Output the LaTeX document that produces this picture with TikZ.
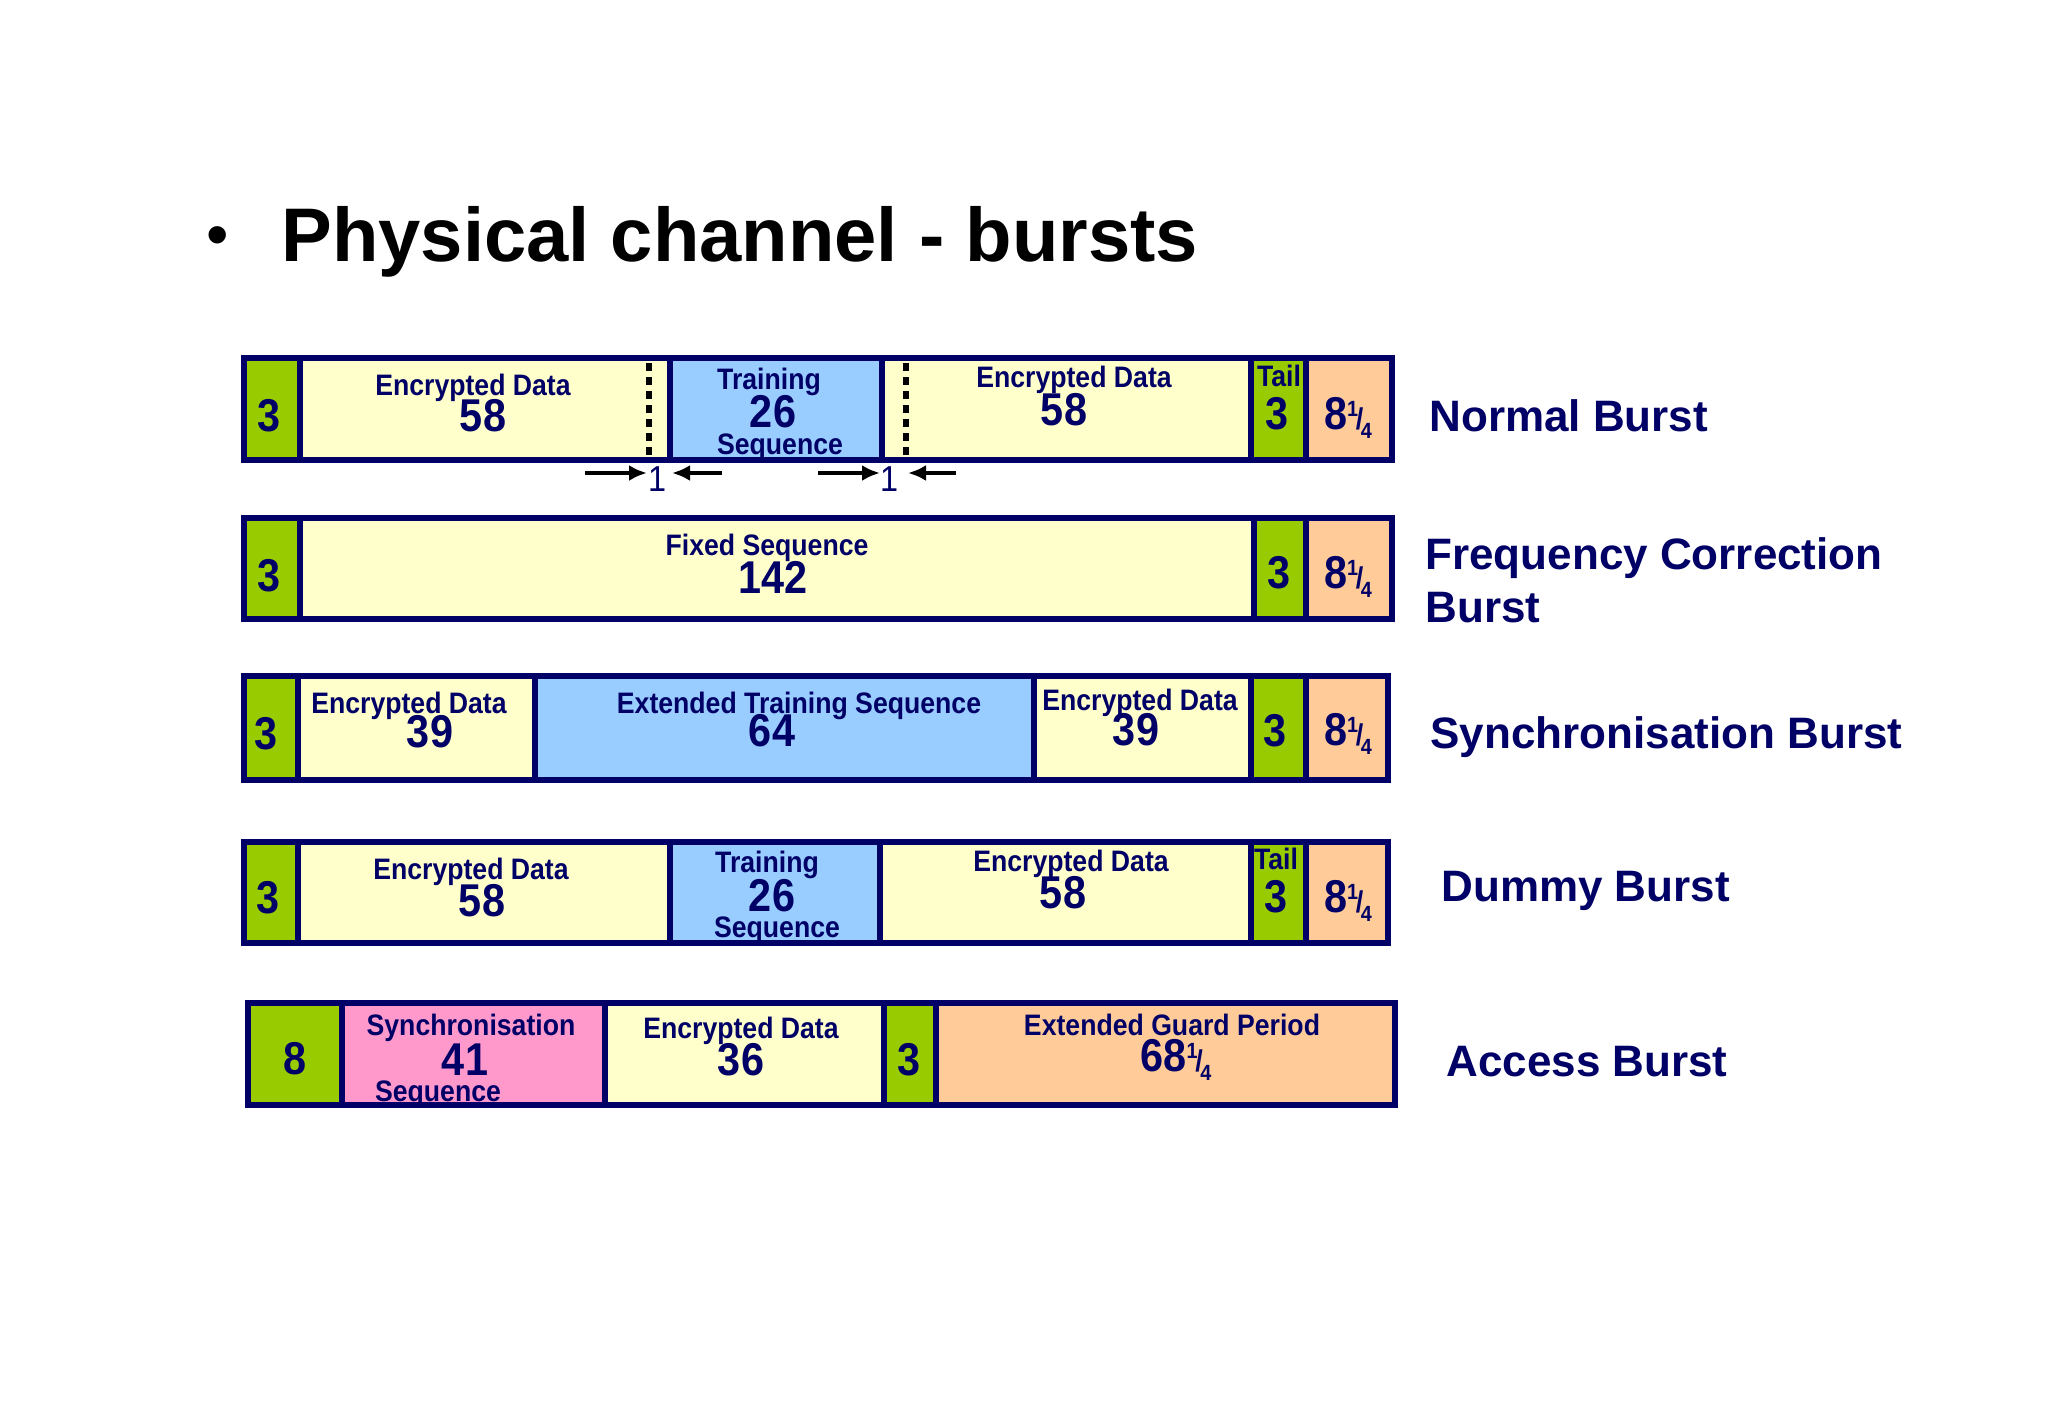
\documentclass[tikz,border=0pt]{standalone}
\usepackage{fontspec}
\setmainfont{Liberation Sans}
\newfontfamily\narrowfont[FakeStretch=0.9]{Liberation Sans}
\usetikzlibrary{arrows.meta}

\definecolor{burstnavy}{HTML}{000066}
\definecolor{tailgreen}{HTML}{99CC00}
\definecolor{datayellow}{HTML}{FFFFCC}
\definecolor{trainblue}{HTML}{99CCFF}
\definecolor{guardpeach}{HTML}{FFCC99}
\definecolor{syncpink}{HTML}{FF99CC}

% one field of a burst: left, right, top, bottom, colour
\newcommand\BurstCell[5]{%
  \draw[cell,fill=#5] (#1,#3) rectangle (#2,#4);
}
% a number with a quarter bit
\newcommand\Quarter[1]{#1\raisebox{0.55ex}{\fontsize{11}{11}\selectfont 1}%
  \kern-0.05em{\fontsize{15}{15}\selectfont /}\kern-0.05em%
  \raisebox{-0.35ex}{\fontsize{11}{11}\selectfont 4}}

\tikzset{%
  >=Latex, % option for nice arrows
  cell/.style={draw=burstnavy,line width=3pt},
  fieldtxt/.style={font=\narrowfont\fontsize{14.8}{14.8}\selectfont\bfseries,
    text=burstnavy,inner sep=0pt,text height=10.6pt,text depth=0pt},
  bitcount/.style={font=\narrowfont\fontsize{23}{23}\selectfont\bfseries,
    text=burstnavy,inner sep=0pt,text height=16.5pt,text depth=0pt},
  burstname/.style={font=\fontsize{22}{26}\selectfont\bfseries,text=burstnavy,
    anchor=base west,inner sep=0pt},
  guardbit/.style={dash pattern=on 4pt off 3pt,line width=3pt,black},
  gaparrow/.style={-{Latex[length=9pt,width=8pt]},line width=2.2pt,black},
  gapone/.style={font=\narrowfont\fontsize{18}{18}\selectfont,text=burstnavy,
    inner sep=0pt}
}

\begin{document}
\begin{tikzpicture}[x=0.5pt,y=-0.5pt]

\useasboundingbox[fill=white] (0,0) rectangle (2048,1418);

%% heading

\node[font=\fontsize{32}{32}\selectfont] (bullet) at (218,242) {•};
\node[font=\fontsize{38}{40}\selectfont\bfseries,anchor=base west,inner sep=0pt]
  (title) at (281,261) {Physical channel - bursts};

%% normal burst

\def\top{358} \def\bot{460}
\BurstCell{244}{300}{\top}{\bot}{tailgreen}
\BurstCell{300}{670}{\top}{\bot}{datayellow}
\BurstCell{670}{882}{\top}{\bot}{trainblue}
\BurstCell{882}{1251}{\top}{\bot}{datayellow}
\BurstCell{1251}{1306}{\top}{\bot}{tailgreen}
\BurstCell{1306}{1392}{\top}{\bot}{guardpeach}
\draw[guardbit] (649,363) -- (649,456);
\draw[guardbit] (906,363) -- (906,456);

\node[bitcount] (nbTailL) at (269,415) {3};
\node[fieldtxt] (nbDataL) at (473,385) {Encrypted Data};
\node[bitcount] (nbDataLn) at (483,415) {58};
\node[fieldtxt] (nbTrain) at (769,379) {Training};
\node[bitcount] (nbTrainn) at (773,411) {26};
\node[fieldtxt] (nbSeq) at (780,444) {Sequence};
\node[fieldtxt] (nbDataR) at (1074,377) {Encrypted Data};
\node[bitcount] (nbDataRn) at (1064,409) {58};
\node[fieldtxt] (nbTail) at (1279,376) {Tail};
\node[bitcount] (nbTailR) at (1277,413) {3};
\node[bitcount] (nbGuard) at (1348,413) {\Quarter{8}};

%% stealing bits below the normal burst

\node[gapone] (oneL) at (657,479) {1};
\node[gapone] (oneR) at (889,479) {1};
\coordinate (oneLa) at (585,473);
\coordinate (oneLb) at (647,473);
\coordinate (oneLc) at (722,473);
\coordinate (oneLd) at (672,473);
\coordinate (oneRa) at (818,473);
\coordinate (oneRb) at (880,473);
\coordinate (oneRc) at (956,473);
\coordinate (oneRd) at (908,473);
\draw[gaparrow] (oneLa) -- (oneLb);
\draw[gaparrow] (oneLc) -- (oneLd);
\draw[gaparrow] (oneRa) -- (oneRb);
\draw[gaparrow] (oneRc) -- (oneRd);

%% frequency correction burst

\def\top{518} \def\bot{619}
\BurstCell{244}{300}{\top}{\bot}{tailgreen}
\BurstCell{300}{1254}{\top}{\bot}{datayellow}
\BurstCell{1254}{1306}{\top}{\bot}{tailgreen}
\BurstCell{1306}{1392}{\top}{\bot}{guardpeach}

\node[bitcount] (fbTailL) at (269,575) {3};
\node[fieldtxt] (fbFixed) at (767,545) {Fixed Sequence};
\node[bitcount] (fbFixedn) at (773,577) {142};
\node[bitcount] (fbTailR) at (1279,572) {3};
\node[bitcount] (fbGuard) at (1348,572) {\Quarter{8}};

%% synchronisation burst

\def\top{676} \def\bot{780}
\BurstCell{244}{298}{\top}{\bot}{tailgreen}
\BurstCell{298}{535}{\top}{\bot}{datayellow}
\BurstCell{535}{1034}{\top}{\bot}{trainblue}
\BurstCell{1034}{1251}{\top}{\bot}{datayellow}
\BurstCell{1251}{1306}{\top}{\bot}{tailgreen}
\BurstCell{1306}{1388}{\top}{\bot}{guardpeach}

\node[bitcount] (sbTailL) at (266,733) {3};
\node[fieldtxt] (sbDataL) at (409,703) {Encrypted Data};
\node[bitcount] (sbDataLn) at (430,731) {39};
\node[fieldtxt] (sbTrain) at (799,703) {Extended Training Sequence};
\node[bitcount] (sbTrainn) at (772,730) {64};
\node[fieldtxt] (sbDataR) at (1140,700) {Encrypted Data};
\node[bitcount] (sbDataRn) at (1136,729) {39};
\node[bitcount] (sbTailR) at (1275,730) {3};
\node[bitcount] (sbGuard) at (1348,729) {\Quarter{8}};

%% dummy burst

\def\top{842} \def\bot{943}
\BurstCell{244}{298}{\top}{\bot}{tailgreen}
\BurstCell{298}{670}{\top}{\bot}{datayellow}
\BurstCell{670}{880}{\top}{\bot}{trainblue}
\BurstCell{880}{1251}{\top}{\bot}{datayellow}
\BurstCell{1251}{1306}{\top}{\bot}{tailgreen}
\BurstCell{1306}{1388}{\top}{\bot}{guardpeach}

\node[bitcount] (dbTailL) at (268,897) {3};
\node[fieldtxt] (dbDataL) at (471,869) {Encrypted Data};
\node[bitcount] (dbDataLn) at (482,900) {58};
\node[fieldtxt] (dbTrain) at (767,862) {Training};
\node[bitcount] (dbTrainn) at (772,895) {26};
\node[fieldtxt] (dbSeq) at (777,927) {Sequence};
\node[fieldtxt] (dbDataR) at (1071,861) {Encrypted Data};
\node[bitcount] (dbDataRn) at (1063,892) {58};
\node[fieldtxt] (dbTail) at (1276,859) {Tail};
\node[bitcount] (dbTailR) at (1276,896) {3};
\node[bitcount] (dbGuard) at (1348,896) {\Quarter{8}};

%% access burst

\def\top{1003} \def\bot{1105}
\BurstCell{248}{342}{\top}{\bot}{tailgreen}
\BurstCell{342}{605}{\top}{\bot}{syncpink}
\BurstCell{605}{884}{\top}{\bot}{datayellow}
\BurstCell{884}{936}{\top}{\bot}{tailgreen}
\BurstCell{936}{1395}{\top}{\bot}{guardpeach}

\node[bitcount] (abTailL) at (295,1058) {8};
\node[fieldtxt] (abSync) at (471,1025) {Synchronisation};
\node[bitcount] (abSyncn) at (465,1059) {41};
\node[fieldtxt] (abSeq) at (438,1091) {Sequence};
\node[fieldtxt] (abData) at (741,1028) {Encrypted Data};
\node[bitcount] (abDatan) at (741,1059) {36};
\node[bitcount] (abTailR) at (909,1059) {3};
\node[fieldtxt] (abGuard) at (1172,1025) {Extended Guard Period};
\node[bitcount] (abGuardn) at (1176,1055) {\Quarter{68}};

%% burst names

\node[burstname] (nameNormal) at (1429,431) {Normal Burst};
\node[burstname] (nameFreq) at (1425,569) {Frequency Correction};
\node[burstname] (nameFreqB) at (1425,622) {Burst};
\node[burstname] (nameSync) at (1430,748) {Synchronisation Burst};
\node[burstname] (nameDummy) at (1441,901) {Dummy Burst};
\node[burstname] (nameAccess) at (1446,1076) {Access Burst};

\end{tikzpicture}
\end{document}
